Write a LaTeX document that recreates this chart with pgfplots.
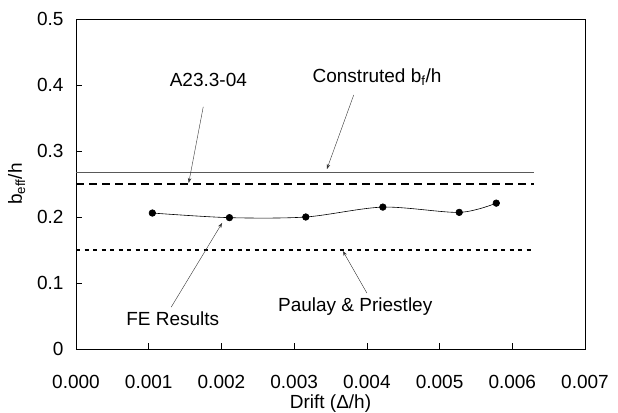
\documentclass[border=0pt]{standalone}
\usepackage{fontspec}
\setmainfont{Liberation Sans}
\usepackage{pgfplots}
\pgfplotsset{compat=1.18}
\usetikzlibrary{arrows.meta,calc}

\begin{document}
\fontsize{19bp}{22bp}\selectfont
\begin{tikzpicture}[note/.style={-{Stealth[length=5bp,width=3.5bp]}, line width=0.4pt, black!80}]
\begin{axis}[
  scale only axis, width=509bp, height=330bp,
  xmin=0, xmax=0.007, ymin=0, ymax=0.5,
  xtick={0,0.001,0.002,0.003,0.004,0.005,0.006,0.007},
  ytick={0,0.1,0.2,0.3,0.4,0.5},
  tick align=inside, tick pos=left, major tick length=6bp,
  tick style={black, line width=0.5pt},
  axis line style={black, line width=0.8pt},
  scaled x ticks=false, scaled y ticks=false,
  /pgf/number format/assume math mode=true,
  xticklabel style={/pgf/number format/fixed, /pgf/number format/fixed zerofill,
    /pgf/number format/precision=3, yshift=-20bp},
  yticklabel style={/pgf/number format/fixed, /pgf/number format/precision=1, xshift=-6bp},
  xlabel={Drift (Δ/h)},
  ylabel={b\textsubscript{eff}/h},
  xlabel style={yshift=7bp},
  ylabel style={yshift=-1bp},
  clip=false,
]
% Construted b_f/h
\addplot[gray!70!black, line width=0.8pt] coordinates {(0,0.267) (0.0063,0.267)};
% A23.3-04
\addplot[black, line width=1.8pt, dash pattern=on 8bp off 5bp] coordinates {(0,0.25) (0.0063,0.25)};
% Paulay & Priestley
\addplot[black, line width=1.5pt, dash pattern=on 4bp off 4.5bp] coordinates {(0,0.15) (0.0063,0.15)};
% FE results
\addplot[black, line width=0.6pt, smooth, mark=*, mark size=3.3bp] coordinates {
  (0.00105,0.206) (0.00211,0.199) (0.00316,0.200) (0.00422,0.215) (0.00527,0.207) (0.00578,0.221)};

\node at (axis cs:0.00182,0.407) {A23.3-04};
\draw[note] (axis cs:0.00175,0.367) -- (axis cs:0.00155,0.2515);
\node at (axis cs:0.00414,0.412) {Construted b\textsubscript{f}/h};
\draw[note] (axis cs:0.00382,0.385) -- (axis cs:0.00345,0.2725);
\node at (axis cs:0.00133,0.0455) {FE Results};
\draw[note] (axis cs:0.00131,0.0636) -- (axis cs:0.00201,0.191);
\node at (axis cs:0.00384,0.0636) {Paulay \& Priestley};
\draw[note] (axis cs:0.0040,0.0848) -- (axis cs:0.00367,0.1485);
\end{axis}
\pgfresetboundingbox
\path ($(current axis.south west)+(-76bp,-64bp)$) rectangle ($(current axis.north east)+(33bp,19bp)$);
\end{tikzpicture}
\end{document}
